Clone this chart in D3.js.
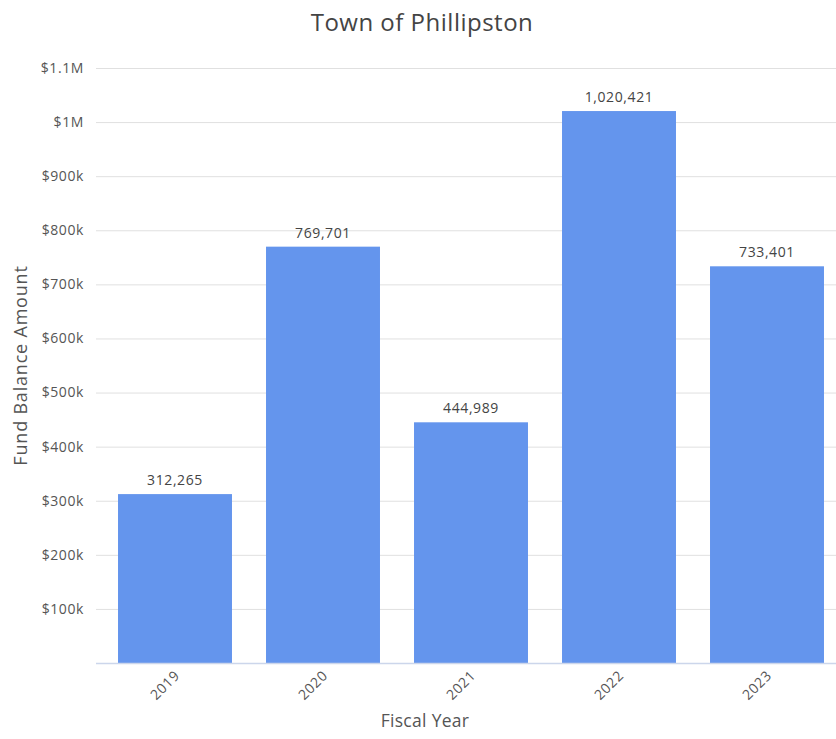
<!DOCTYPE html>
<html>
<head>
<meta charset="utf-8">
<script src="https://cdn.jsdelivr.net/npm/d3@7"></script>
<style>
  body { margin: 0; background: #fff; font-family: "Open Sans", sans-serif; }
  svg { display: block; }
</style>
</head>
<body>
<svg id="chart" width="836" height="739"></svg>
<script>
const years = ["2019", "2020", "2021", "2022", "2023"];
const balances = [312265, 769701, 444989, 1020421, 733401];
const yTicks = [100000, 200000, 300000, 400000, 500000, 600000, 700000, 800000, 900000, 1000000, 1100000];
const yTickLabels = ["$100k", "$200k", "$300k", "$400k", "$500k", "$600k", "$700k", "$800k", "$900k", "$1M", "$1.1M"];

const data = years.map((y, i) => ({ year: y, value: balances[i] }));

const width = 836, height = 739;
const margin = { top: 68, right: 0, bottom: 76, left: 96 };

const svg = d3.select("#chart");

const x = d3.scaleBand()
    .domain(years)
    .range([101, 841])
    .paddingInner(0.23)
    .paddingOuter(0.115);

const y = d3.scaleLinear()
    .domain([0, 1100000])
    .range([height - margin.bottom, margin.top]);

// grid lines
svg.append("g")
    .selectAll("line")
    .data(yTicks)
    .enter().append("line")
    .attr("x1", margin.left)
    .attr("x2", width)
    .attr("y1", d => y(d) + 0.5)
    .attr("y2", d => y(d) + 0.5)
    .attr("stroke", "#e0e0e0")
    .attr("stroke-width", 1);

// y tick labels
svg.append("g")
    .selectAll("text")
    .data(yTicks)
    .enter().append("text")
    .attr("x", 84)
    .attr("y", d => y(d))
    .attr("dy", "0.35em")
    .attr("text-anchor", "end")
    .attr("font-size", "14px")
    .attr("letter-spacing", "0.6px")
    .attr("fill", "#555")
    .text((d, i) => yTickLabels[i]);

// bars
svg.append("g")
    .selectAll("rect")
    .data(data)
    .enter().append("rect")
    .attr("x", d => x(d.year))
    .attr("y", d => y(d.value))
    .attr("width", x.bandwidth())
    .attr("height", d => y(0) - y(d.value))
    .attr("fill", "#6495ed");

// value labels
svg.append("g")
    .selectAll("text")
    .data(data)
    .enter().append("text")
    .attr("x", d => x(d.year) + x.bandwidth() / 2)
    .attr("y", d => y(d.value) - 9)
    .attr("text-anchor", "middle")
    .attr("font-size", "14px")
    .attr("letter-spacing", "0.6px")
    .attr("fill", "#444")
    .text(d => d3.format(",")(d.value));

// baseline
svg.append("line")
    .attr("x1", margin.left)
    .attr("x2", width)
    .attr("y1", y(0) + 0.5)
    .attr("y2", y(0) + 0.5)
    .attr("stroke", "#ccd6eb")
    .attr("stroke-width", 1.5);

// x tick labels
svg.append("g")
    .selectAll("text")
    .data(years)
    .enter().append("text")
    .attr("transform", d => `translate(${x(d) + x.bandwidth() / 2 + 2},${y(0) + 10}) rotate(-45)`)
    .attr("text-anchor", "end")
    .attr("dy", "0.35em")
    .attr("font-size", "14px")
    .attr("letter-spacing", "0.6px")
    .attr("fill", "#555")
    .text(d => d);

// title
svg.append("text")
    .attr("x", 422)
    .attr("y", 31)
    .attr("text-anchor", "middle")
    .attr("font-size", "24px")
    .attr("letter-spacing", "0.5px")
    .attr("fill", "#444")
    .text("Town of Phillipston");

// axis titles
svg.append("text")
    .attr("x", 425)
    .attr("y", 727)
    .attr("text-anchor", "middle")
    .attr("font-size", "17.5px")
    .attr("letter-spacing", "0.3px")
    .attr("fill", "#555")
    .text("Fiscal Year");

svg.append("text")
    .attr("transform", `translate(27,${(y(0) + y(1100000)) / 2}) rotate(-90)`)
    .attr("text-anchor", "middle")
    .attr("font-size", "18px")
    .attr("letter-spacing", "0.8px")
    .attr("fill", "#555")
    .text("Fund Balance Amount");
</script>
</body>
</html>
